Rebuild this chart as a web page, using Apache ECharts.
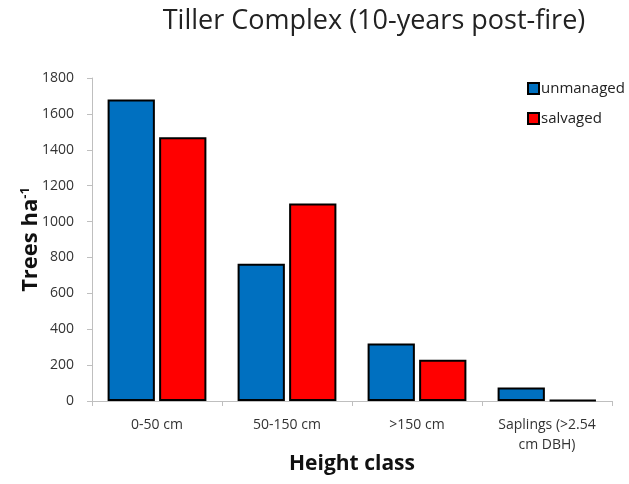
<!DOCTYPE html>
<html><head><meta charset="utf-8">
<script src="https://cdn.jsdelivr.net/npm/echarts@6/dist/echarts.min.js"></script>
<style>html,body{margin:0;padding:0;background:#fff}#c{width:629px;height:484px}</style>
</head><body><div id="c"></div>
<script>
const categories = ['0-50 cm', '50-150 cm', '>150 cm', 'Saplings (>2.54\ncm DBH)'];
const unmanaged = [1680, 765, 320, 75];
const salvaged = [1470, 1100, 230, 5];
const yTicks = [0, 200, 400, 600, 800, 1000, 1200, 1400, 1600, 1800];

const chart = echarts.init(document.getElementById('c'));
const font = '"Open Sans", sans-serif';
chart.setOption({
  animation: false,
  title: {
    text: 'Tiller Complex (10-years post-fire)',
    left: 369, top: 3, textAlign: 'center',
    textStyle: {fontFamily: font, fontSize: 27, fontWeight: 'normal', color: '#222'}
  },
  legend: {
    orient: 'vertical', left: 522, top: 76, itemGap: 15,
    itemWidth: 11, itemHeight: 11, icon: 'rect',
    textStyle: {fontFamily: font, fontSize: 15, color: '#222', padding: [0,0,0,-3]},
    data: ['unmanaged', 'salvaged']
  },
  grid: {left: 92, right: 17, top: 78, bottom: 83, containLabel: false, outerBoundsMode: 'none'},
  xAxis: {
    type: 'category', data: categories,
    name: 'Height class', nameLocation: 'middle', nameGap: 53, nameMoveOverlap: false,
    nameTextStyle: {fontFamily: font, fontSize: 21, fontWeight: 'bold', color: '#111'},
    axisLine: {lineStyle: {color: '#bfbfbf', width: 1}},
    axisTick: {show: true, length: 5, lineStyle: {color: '#bfbfbf'}},
    axisLabel: {fontFamily: font, fontSize: 14, color: '#333', margin: 14, lineHeight: 20}
  },
  yAxis: {
    type: 'value', min: 0, max: 1800, interval: 200,
    name: '{a|Trees ha}{s|-1}', nameLocation: 'middle', nameGap: 50, nameMoveOverlap: false,
    nameTextStyle: {
      rich: {
        a: {fontFamily: font, fontSize: 22, fontWeight: 'bold', color: '#111'},
        s: {fontFamily: font, fontSize: 13, fontWeight: 'bold', color: '#111', verticalAlign: 'top', padding: [0,0,10,0]}
      }
    },
    axisLine: {show: true, lineStyle: {color: '#bfbfbf', width: 1}},
    axisTick: {show: true, length: 5, lineStyle: {color: '#bfbfbf'}},
    splitLine: {show: false},
    axisLabel: {fontFamily: font, fontSize: 14, color: '#333', margin: 18,
      formatter: v => yTicks.includes(v) ? String(v) : ''}
  },
  series: [
    {name: 'unmanaged', type: 'bar', data: unmanaged, barGap: '9%', barCategoryGap: '24%',
     itemStyle: {color: '#0070c0', borderColor: '#000', borderWidth: 2}},
    {name: 'salvaged', type: 'bar', data: salvaged,
     itemStyle: {color: '#ff0000', borderColor: '#000', borderWidth: 2}}
  ]
});
</script></body></html>
